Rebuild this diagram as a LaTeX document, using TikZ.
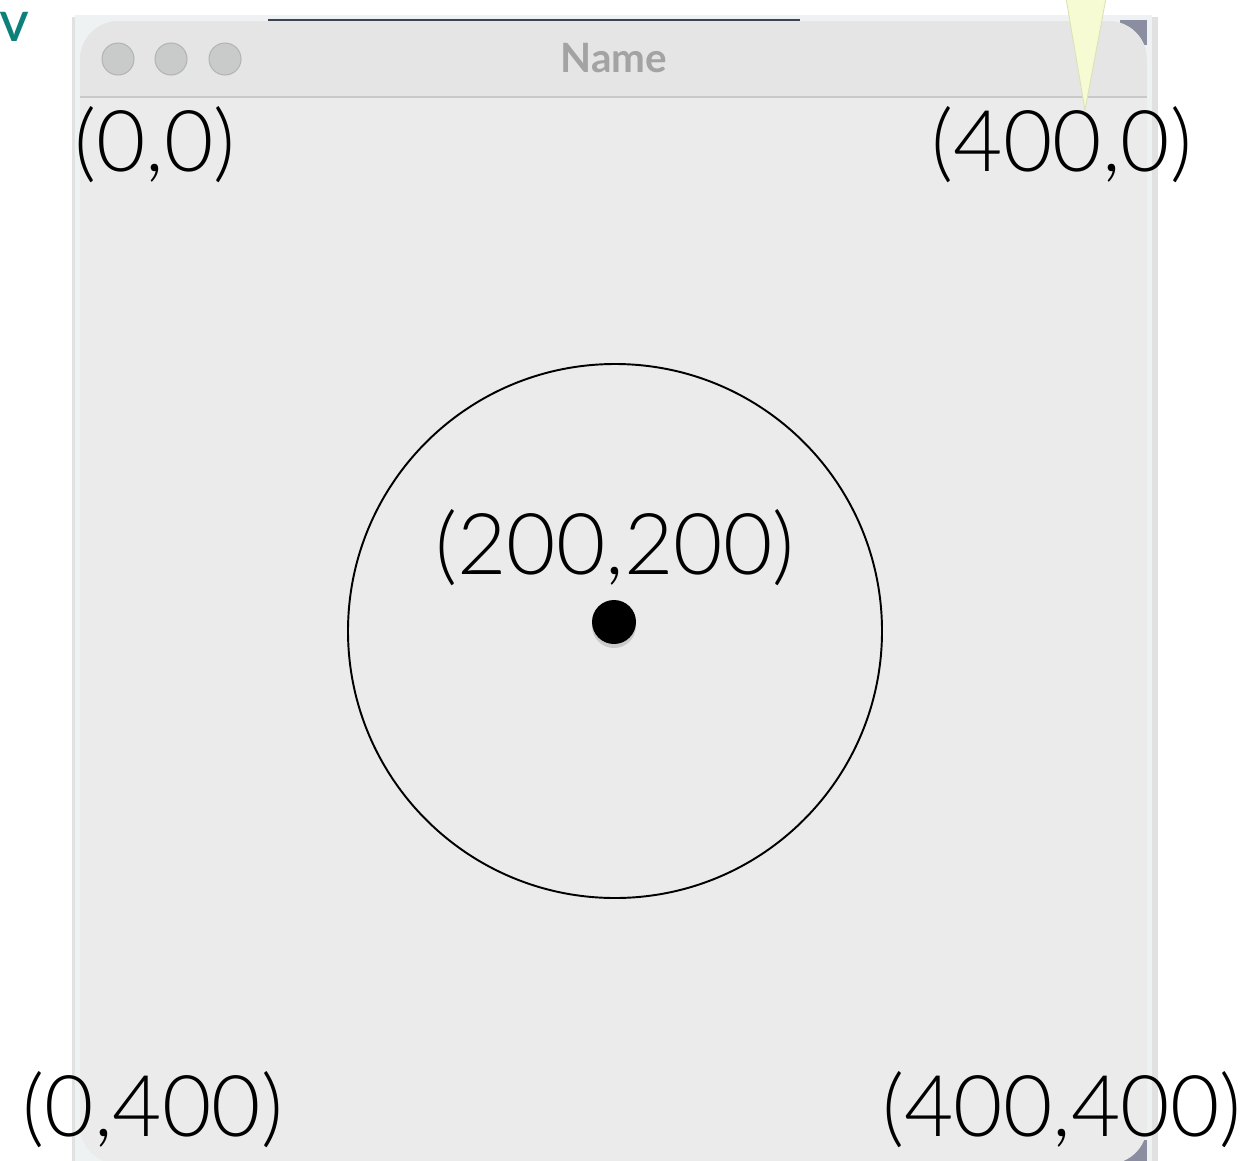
\documentclass[tikz,border=0pt]{standalone}
\usepackage{fontspec}
\setmainfont{Lato}
\newfontfamily\thinfont{Lato Light}
\usepackage{tikz}
\usetikzlibrary{positioning, shadows}
\definecolor{WinFill}{HTML}{EBEBEB}
\definecolor{TitleFill}{HTML}{E5E5E5}
\definecolor{TitleLine}{HTML}{C9C9C9}
\definecolor{FramePale}{HTML}{EEF2F2}
\definecolor{ShadowGray}{HTML}{C4C4C4}
\definecolor{CornerSlate}{HTML}{8A8EA0}
\definecolor{TopSlate}{HTML}{3C4352}
\definecolor{LightBtn}{HTML}{C9CBCB}
\definecolor{LightBtnEdge}{HTML}{B3B5B5}
\definecolor{NameGray}{HTML}{A3A3A3}
\definecolor{TealTab}{HTML}{0E807A}
\definecolor{PointerFill}{HTML}{F6FBD4}
\definecolor{PointerEdge}{HTML}{DCE2B4}
\tikzset{
  coord/.style={font=\thinfont\fontsize{48.5}{52}\selectfont, inner sep=0pt, text=black},
  lightbtn/.style={circle, minimum size=0.64cm, inner sep=0pt, fill=LightBtn, draw=LightBtnEdge, line width=0.6pt},
  marker/.style={circle, fill=black, inner sep=0pt, minimum size=0.88cm,
    drop shadow={opacity=0.3, shadow xshift=0pt, shadow yshift=-0.08cm}},
}

\begin{document}
\begin{tikzpicture}[x=0.02cm, y=-0.02cm]
\useasboundingbox (0,0) rectangle (1250,1160);
\fill[white] (0,0) rectangle (1250,1160);

% Window frame and shadow
\fill[ShadowGray!50] (72,17) rectangle (1158,1170);
\fill[FramePale] (75,15) rectangle (1152,1170);
\fill[CornerSlate] (1120,20) rectangle (1147,45);
\fill[CornerSlate] (1120,1140) rectangle (1147,1170);
\fill[TopSlate] (268,19) rectangle (800,23);

% Window body
\fill[WinFill, rounded corners=22] (80,21) rectangle (1147,1164);
\begin{scope}
  \clip[rounded corners=22] (80,21) rectangle (1147,1164);
  \fill[TitleFill] (80,21) rectangle (1147,97);
\end{scope}
\draw[TitleLine, line width=1pt] (80,97) -- (1147,97);

% Title bar
\foreach \cx [count=\i] in {118,171,225}
  \node[lightbtn] (btn\i) at (\cx,59) {};
\node[font=\bfseries\fontsize{23}{25}\selectfont, text=NameGray] (title) at (614,58) {Name};
\node[font=\bfseries\fontsize{23}{25}\selectfont, text=TealTab, anchor=west, inner sep=0pt] (tab) at (0,27) {V};

% Circle and centre point
\draw[black, line width=1.1pt] (615,631) circle[radius=267];
\node[marker] (centre) at (614,622) {};

% Corner and centre labels
\node[coord] (topleft) at (155,145) {(0,0)};
\node[coord] (topright) at (1062,145) {(400,0)};
\node[coord] (middle) at (615,548) {(200,200)};
\node[coord] (bottomleft) at (153,1110) {(0,400)};
\node[coord] (bottomright) at (1062,1110) {(400,400)};

% Pointer
\filldraw[fill=PointerFill, draw=PointerEdge, line width=0.5pt]
  (1066,-2) -- (1106,-2) -- (1085,110) -- cycle;
\end{tikzpicture}
\end{document}
